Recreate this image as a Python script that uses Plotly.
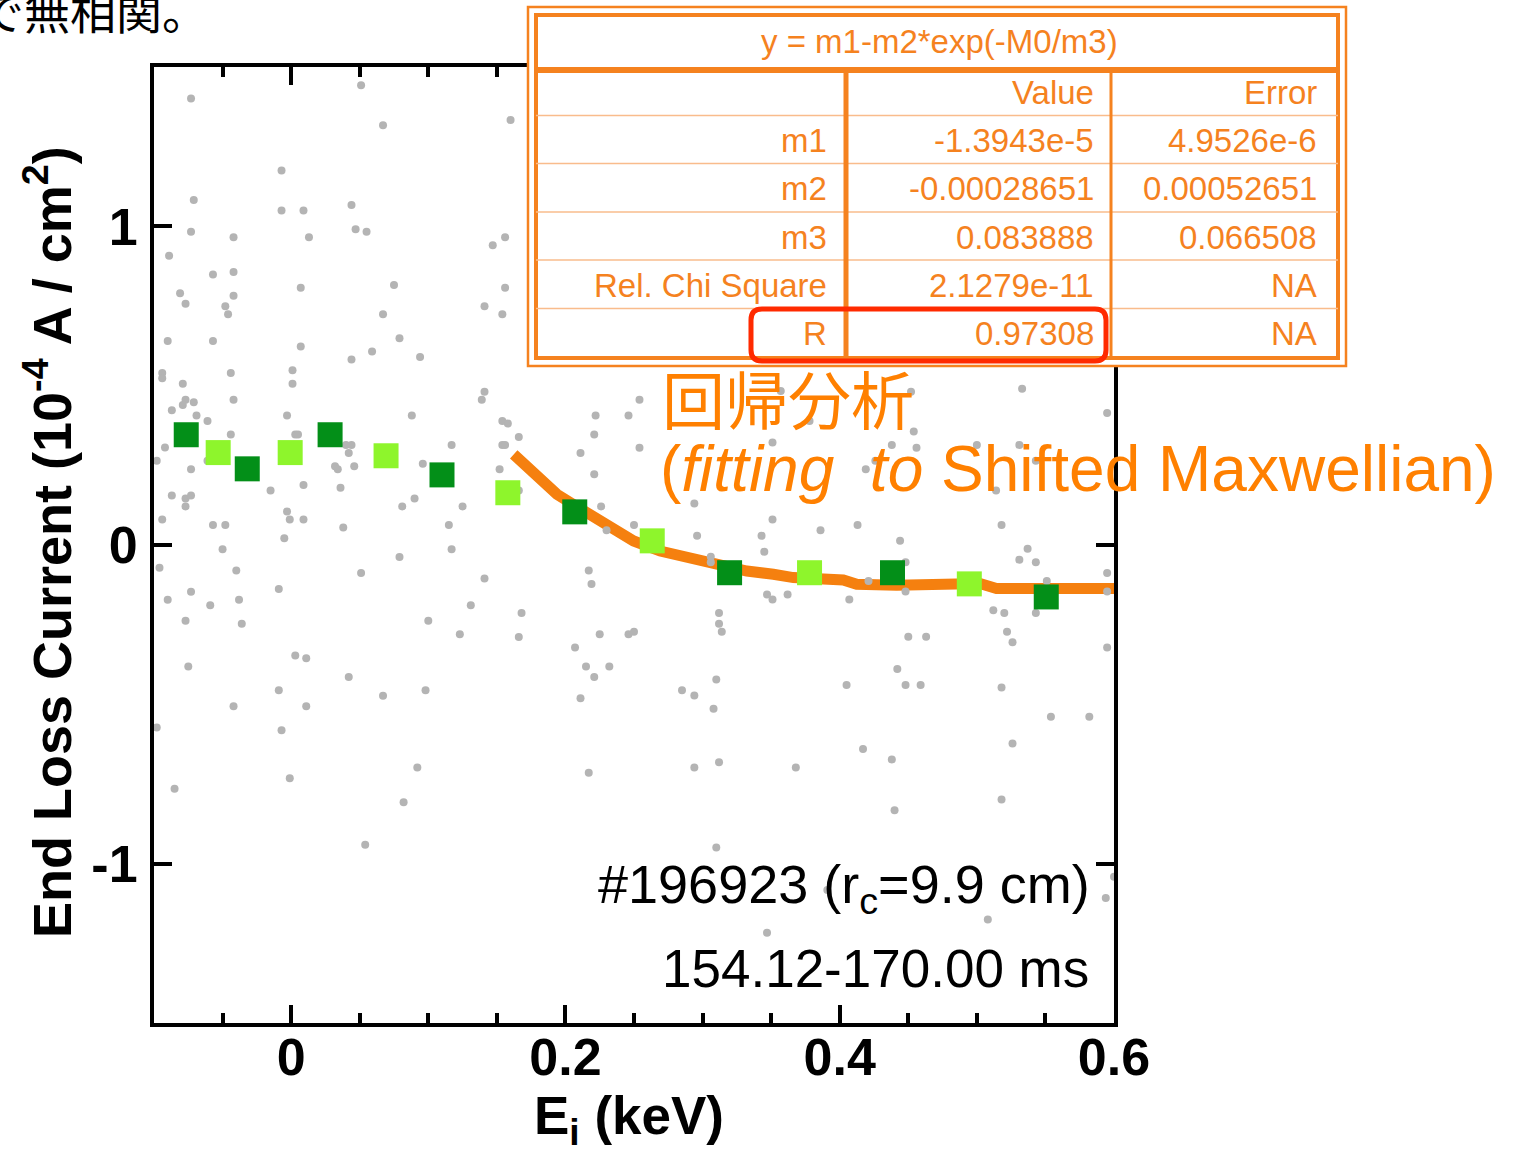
import plotly.graph_objects as go

# ---------------- data ----------------
gray_x = [
    -0.073, 0.051, 0.067, 0.160, -0.007, -0.071, -0.007, 0.009, 0.044, -0.073,
    -0.042, 0.013, 0.047, 0.055, 0.156, 0.147, -0.089, -0.057, -0.042, 0.007,
    0.075, 0.156, -0.081, -0.077, -0.042, -0.048, -0.046, 0.067, 0.141, 0.154,
    -0.090, -0.057, 0.007, 0.079, 0.059, 0.044, 0.094, -0.094, -0.094, -0.044,
    0.001, 0.001, -0.079, 0.141, 0.139, -0.077, -0.079, -0.071, -0.042, -0.087,
    -0.069, -0.061, -0.003, 0.088, 0.154, 0.158, 0.166, -0.044, 0.003, 0.005,
    0.040, 0.044, 0.117, 0.154, 0.156, -0.092, 0.042,
    -0.098, -0.061, -0.073, 0.032, 0.034, 0.046, 0.096, 0.152, 0.166, 0.009,
    -0.015, 0.036, -0.087, -0.077, -0.073, -0.077, 0.090, 0.081, 0.125, -0.094,
    -0.057, -0.048, -0.003, -0.001, 0.009, 0.038, 0.115, -0.005, -0.050, 0.117,
    0.079, -0.096, -0.040, 0.051, 0.141, -0.009, -0.090, -0.073, -0.059, -0.038,
    0.131, 0.168, -0.077, -0.036, 0.100, 0.123, 0.166, 0.003, 0.011, -0.075,
    0.042, -0.009, 0.067, 0.098, -0.042, 0.011, -0.098, -0.007, 0.092, -0.001,
    -0.085, 0.082,
    0.054,
    0.211, 0.217, 0.285, 0.294, 0.308, 0.294, 0.312, 0.310,
    0.554, 0.582, 0.417, 0.438, 0.526, 0.368, 0.440, 0.518, 0.600, 0.594,
    0.391, 0.508, 0.347,
    0.254, 0.222, 0.246, 0.221, 0.254, 0.211, 0.221, 0.226, 0.250, 0.230,
    0.294, 0.296, 0.351, 0.351, 0.343, 0.345, 0.306, 0.306, 0.217, 0.219,
    0.347, 0.351, 0.362, 0.312, 0.312, 0.314, 0.225, 0.246, 0.250, 0.207,
    0.215, 0.232, 0.221, 0.310, 0.357,
    0.452, 0.533, 0.595, 0.378, 0.454, 0.438, 0.456, 0.500, 0.531, 0.543,
    0.426, 0.419, 0.514, 0.386, 0.413, 0.518, 0.444, 0.537, 0.531, 0.543,
    0.448, 0.421, 0.448, 0.551, 0.595, 0.595, 0.407, 0.512, 0.520, 0.543,
    0.522, 0.526, 0.450, 0.463, 0.595, 0.442, 0.405, 0.448, 0.459, 0.518,
]
gray_y = [
    1.401, 1.443, 1.317, 1.334, 1.175, 1.083, 1.050, 1.050, 1.067, 0.983,
    0.966, 0.966, 0.991, 0.983, 0.966, 0.941, 0.908, 0.849, 0.857, 0.807,
    0.816, 0.807, 0.790, 0.757, 0.782, 0.749, 0.724, 0.724, 0.749, 0.724,
    0.640, 0.640, 0.623, 0.649, 0.607, 0.582, 0.590, 0.540, 0.523, 0.540,
    0.548, 0.506, 0.506, 0.481, 0.456, 0.456, 0.439, 0.448, 0.456, 0.423,
    0.406, 0.389, 0.406, 0.406, 0.389, 0.381, 0.339, 0.347, 0.347, 0.347,
    0.314, 0.314, 0.314, 0.314, 0.314, 0.306, 0.289,
    0.264, 0.264, 0.238, 0.247, 0.238, 0.247, 0.255, 0.238, 0.171, 0.188,
    0.171, 0.180, 0.155, 0.146, 0.155, 0.121, 0.146, 0.121, 0.121, 0.080,
    0.063, 0.063, 0.105, 0.080, 0.080, 0.055, 0.063, 0.021, -0.013, -0.013,
    -0.038, -0.071, -0.080, -0.088, -0.105, -0.138, -0.172, -0.147, -0.189, -0.172,
    -0.189, -0.213, -0.238, -0.247, -0.238, -0.280, -0.289, -0.347, -0.355, -0.381,
    -0.414, -0.456, -0.473, -0.456, -0.506, -0.506, -0.573, -0.581, -0.698, -0.732,
    -0.765, -0.807,
    -0.941,
    -0.481, -0.715, -0.456, -0.472, -0.514, -0.698, -0.682, -0.949,
    -0.539, -0.539, -0.640, -0.673, -0.623, -0.698, -0.832, -0.799, -1.041, -1.108,
    -1.083, -1.175, -1.217,
    0.456, 0.406, 0.406, 0.347, 0.305, 0.289, 0.222, 0.121, 0.063, 0.046,
    0.130, 0.029, 0.322, 0.080, 0.029, -0.021, -0.037, -0.054, -0.080, -0.122,
    -0.155, -0.171, -0.155, -0.213, -0.247, -0.272, -0.280, -0.280, -0.272, -0.322,
    -0.381, -0.381, -0.414, -0.422, 0.483,
    0.481, 0.490, 0.414, 0.389, 0.356, 0.314, 0.305, 0.314, 0.314, 0.264,
    0.264, 0.238, 0.171, 0.046, 0.063, 0.063, 0.013, -0.012, -0.046, -0.054,
    -0.054, -0.113, -0.146, -0.113, -0.088, -0.146, -0.171, -0.205, -0.213, -0.213,
    -0.272, -0.305, -0.288, -0.288, -0.322, -0.389, -0.439, -0.439, -0.439, -0.447,
]

dark_x = [-0.0765, -0.032, 0.0284, 0.110, 0.2068, 0.3197, 0.4385, 0.5506]
dark_y = [0.346, 0.239, 0.346, 0.220, 0.104, -0.087, -0.087, -0.163]
light_x = [-0.0532, -0.0007, 0.0692, 0.158, 0.2633, 0.378, 0.4945]
light_y = [0.290, 0.290, 0.280, 0.164, 0.013, -0.087, -0.122]

fit_x = [0.1623, 0.1939, 0.2036, 0.2230, 0.2351, 0.2497, 0.2691, 0.2934, 0.3079,
         0.3323, 0.3516, 0.3662, 0.4026, 0.4124, 0.4415, 0.5022, 0.5143, 0.6041]
fit_y = [0.2845, 0.1590, 0.1330, 0.0806, 0.0492, 0.0125, -0.0188, -0.0449, -0.0606,
         -0.0816, -0.0919, -0.1023, -0.1098, -0.1233, -0.1264, -0.1211, -0.1368, -0.1368]

x_tickvals = [0, 0.2, 0.4, 0.6]
x_ticktext = ["0", "0.2", "0.4", "0.6"]
y_tickvals = [-1, 0, 1]
y_ticktext = ["-1", "0", "1"]

table_title = "y = m1-m2*exp(-M0/m3)"
table_names = ["", "m1", "m2", "m3", "Rel. Chi Square", "R"]
table_values = ["Value", "-1.3943e-5", "-0.00028651", "0.083888", "2.1279e-11", "0.97308"]
table_errors = ["Error", "4.9526e-6", "0.00052651", "0.066508", "NA", "NA"]

# ---------------- layout helpers ----------------
W, H = 1513, 1149
L, R, T, B = 154, 399, 67, 126
PW, PH = W - L - R, H - T - B


def px(x):
    return (x - L) / PW


def py(y):
    return (H - B - y) / PH


ORANGE_LINE = "#F5800F"
ORANGE_TXT = "#FF8000"
TABLE_C = "#F5821F"
TABLE_LIGHT = "#F9BC8C"
RED = "#FF2A00"
FONT = "Liberation Sans"
CJK = "Noto Sans CJK JP"

fig = go.Figure()
fig.add_trace(go.Scatter(x=fit_x, y=fit_y, mode="lines",
                         line=dict(color=ORANGE_LINE, width=11), hoverinfo="skip"))
fig.add_trace(go.Scatter(x=gray_x, y=gray_y, mode="markers",
                         marker=dict(color="#B4B4B4", size=8, line=dict(width=0))))
fig.add_trace(go.Scatter(x=dark_x, y=dark_y, mode="markers",
                         marker=dict(symbol="square", size=25, color="#038F18", line=dict(width=0))))
fig.add_trace(go.Scatter(x=light_x, y=light_y, mode="markers",
                         marker=dict(symbol="square", size=25, color="#8EF52C", line=dict(width=0))))

axis_common = dict(
    showline=True, linewidth=4, linecolor="black", mirror="ticks",
    ticks="inside", ticklen=18, tickwidth=3.5, tickcolor="black",
    showgrid=False, zeroline=False,
    tickfont=dict(family=FONT, size=52, color="black", weight="bold"),
)

fig.update_layout(
    width=W, height=H,
    margin=dict(l=L, r=R, t=T, b=B, pad=0),
    paper_bgcolor="white", plot_bgcolor="white",
    showlegend=False,
    xaxis=dict(range=[-0.1, 0.6], tickmode="array", tickvals=x_tickvals, ticktext=x_ticktext,
               minor=dict(tickmode="linear", tick0=0, dtick=0.05, ticks="inside", ticklen=10,
                          tickwidth=3.5, tickcolor="black", showgrid=False),
               ticklabelstandoff=-14, **axis_common),
    yaxis=dict(range=[-1.5, 1.5], tickmode="array", tickvals=y_tickvals, ticktext=y_ticktext,
               ticklabelstandoff=2, **axis_common),
)

shapes = []
# table background and borders
shapes.append(dict(type="rect", xref="paper", yref="paper",
                   x0=px(528), x1=px(1346), y0=py(366), y1=py(7),
                   line=dict(color=TABLE_C, width=2.5), fillcolor="white", layer="above"))
shapes.append(dict(type="rect", xref="paper", yref="paper",
                   x0=px(536), x1=px(1338), y0=py(358), y1=py(15),
                   line=dict(color=TABLE_C, width=4), layer="above"))
for yy in [115.5, 163.5, 212, 260, 308.5]:
    shapes.append(dict(type="line", xref="paper", yref="paper",
                       x0=px(536), x1=px(1338), y0=py(yy), y1=py(yy),
                       line=dict(color=TABLE_LIGHT, width=1.5), layer="above"))
shapes.append(dict(type="line", xref="paper", yref="paper",
                   x0=px(536), x1=px(1338), y0=py(70), y1=py(70),
                   line=dict(color=TABLE_C, width=6), layer="above"))
shapes.append(dict(type="line", xref="paper", yref="paper",
                   x0=px(846), x1=px(846), y0=py(70), y1=py(358),
                   line=dict(color=TABLE_C, width=5), layer="above"))
shapes.append(dict(type="line", xref="paper", yref="paper",
                   x0=px(1111), x1=px(1111), y0=py(70), y1=py(358),
                   line=dict(color=TABLE_C, width=3), layer="above"))

# red rounded rectangle around R row
x0, x1, y0, y1, rr = 751, 1106, 309, 361, 11
pts = [
    ("M", (x0 + rr, y0)), ("L", (x1 - rr, y0)), ("Q", (x1, y0), (x1, y0 + rr)),
    ("L", (x1, y1 - rr)), ("Q", (x1, y1), (x1 - rr, y1)), ("L", (x0 + rr, y1)),
    ("Q", (x0, y1), (x0, y1 - rr)), ("L", (x0, y0 + rr)), ("Q", (x0, y0), (x0 + rr, y0)),
]
path = ""
for p in pts:
    cmd = p[0]
    coords = " ".join(f"{px(a):.5f},{py(b):.5f}" for a, b in p[1:])
    path += f"{cmd} {coords} "
path += "Z"
shapes.append(dict(type="path", xref="paper", yref="paper", path=path,
                   line=dict(color=RED, width=5), layer="above"))
fig.update_layout(shapes=shapes)

ann = []


def add_text(text, x, y, xanchor, size, color, family=FONT, weight="normal", angle=0):
    ann.append(dict(text=text, x=px(x), y=py(y), xref="paper", yref="paper",
                    xanchor=xanchor, yanchor="middle", showarrow=False, textangle=angle,
                    font=dict(family=family, size=size, color=color, weight=weight)))


# table text
add_text(table_title, 939, 41, "center", 33, TABLE_C)
for i in range(len(table_names)):
    yy = 92.5 + 48.2 * i
    if table_names[i]:
        add_text(table_names[i], 829, yy, "right", 33, TABLE_C)
    add_text(table_values[i], 1096, yy, "right", 33, TABLE_C)
    add_text(table_errors[i], 1319, yy, "right", 33, TABLE_C)

# cropped caption at top-left
add_text("で無相関。", -24, 9, "left", 46, "black", family=CJK)

# axis titles
add_text("End Loss Current (10<sup>-4</sup> A / cm<sup>2</sup>)", 48, 542, "center", 54, "black",
         weight="bold", angle=-90)
add_text("E<sub>i</sub> (keV)", 629, 1119, "center", 53, "black", weight="bold")

# shot info
add_text("#196923 (r<sub>c</sub>=9.9 cm)", 1092, 888, "right", 54, "black")
add_text("154.12-170.00 ms", 1091, 968, "right", 53, "black")

# regression label
add_text("回帰分析", 660, 396, "left", 63, ORANGE_TXT, family=CJK)
add_text("(<i>fitting</i>\u00a0 <i>to</i> Shifted Maxwellian)", 658, 469, "left", 64, ORANGE_TXT)

fig.update_layout(annotations=ann)

fig.write_html("out.html")
